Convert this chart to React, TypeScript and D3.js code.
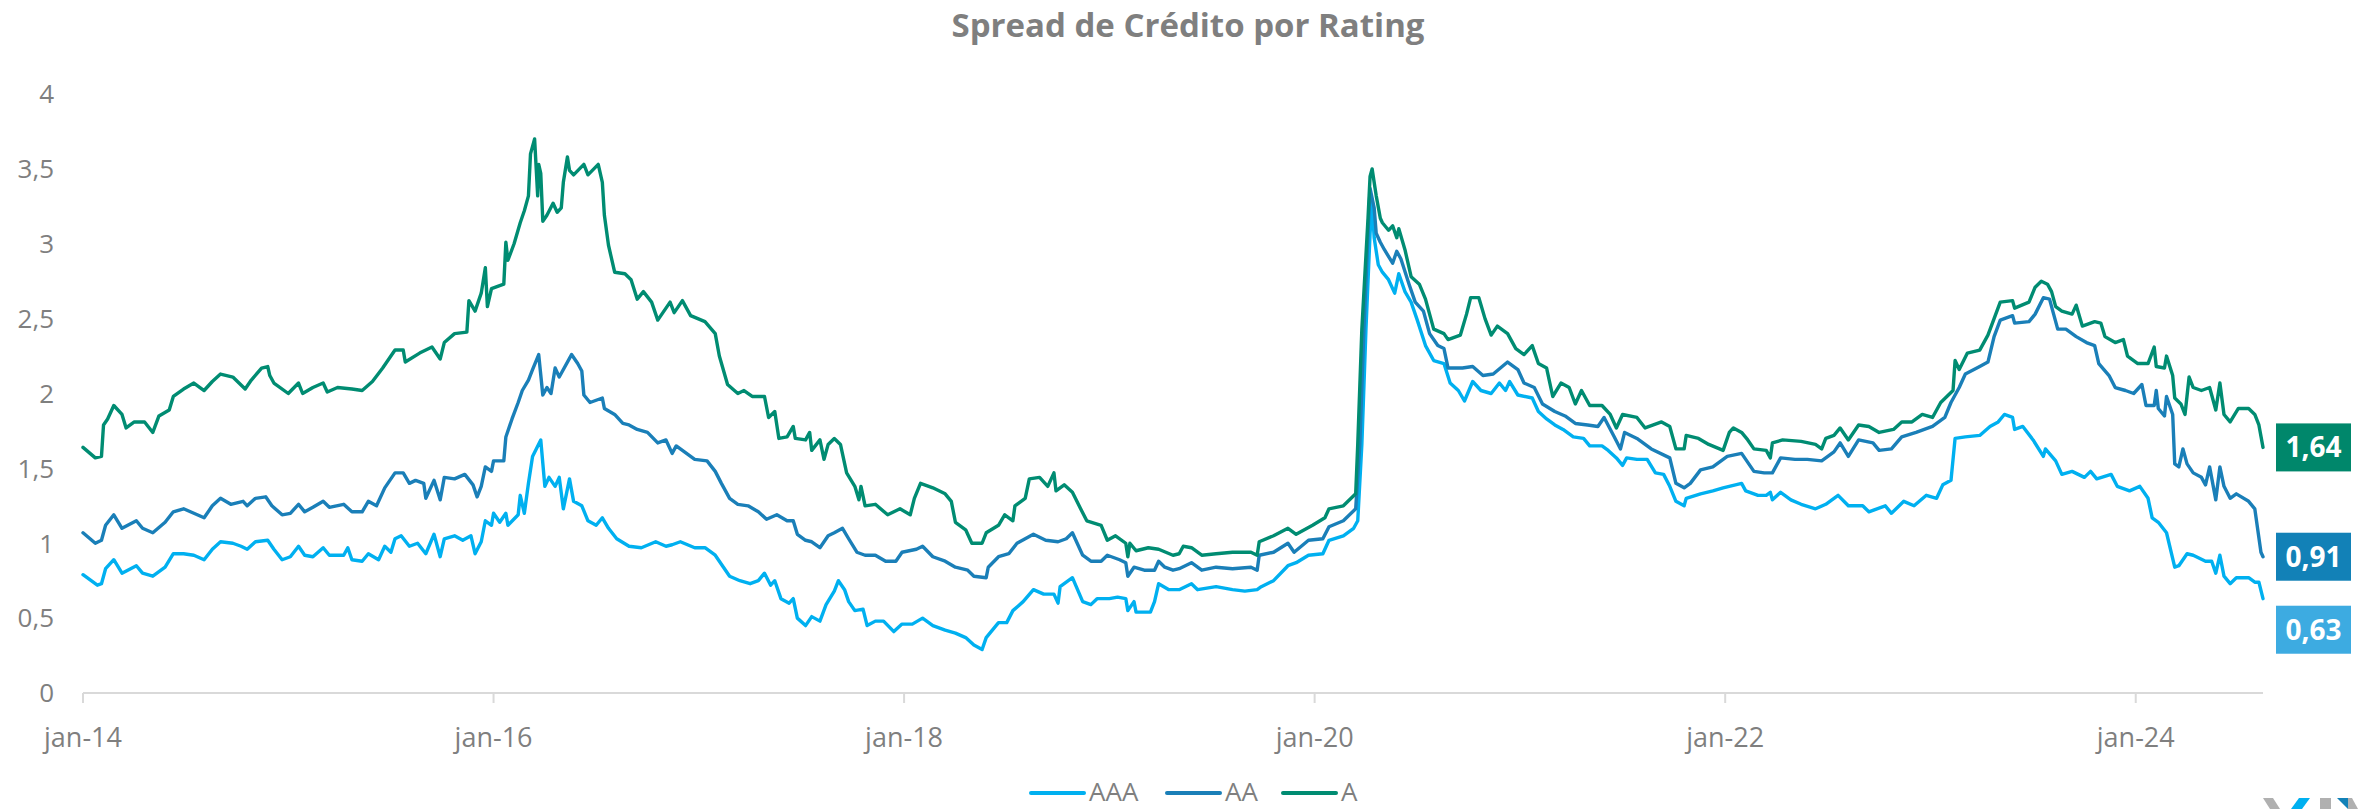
import React from 'react';
import * as d3 from 'd3';

const TITLE = 'Spread de Crédito por Rating';
const SERIES_NAMES = ['AAA', 'AA', 'A'];
const SERIES_COLORS = ['#00b0f0', '#1a7fb8', '#008c72'];
const LABEL_COLORS = ['#3dabe1', '#1281b7', '#00876b'];
const END_LABELS = ['0,63', '0,91', '1,64'];
const X_TICK_YEARS = [2014, 2016, 2018, 2020, 2022, 2024];
const X_TICK_LABELS = ['jan-14', 'jan-16', 'jan-18', 'jan-20', 'jan-22', 'jan-24'];
const Y_TICKS = [0, 0.5, 1, 1.5, 2, 2.5, 3, 3.5, 4];
const Y_TICK_LABELS = ['0', '0,5', '1', '1,5', '2', '2,5', '3', '3,5', '4'];
const X_DOMAIN = [2014, 2024.62];

// [decimal year, spread]
const AAA: [number, number][] = [
  [2014.0, 0.79], [2014.07, 0.72], [2014.09, 0.73], [2014.11, 0.83], [2014.15, 0.89], [2014.19, 0.8],
  [2014.26, 0.85], [2014.29, 0.8], [2014.34, 0.78], [2014.4, 0.84], [2014.44, 0.93], [2014.49, 0.93],
  [2014.54, 0.92], [2014.59, 0.89], [2014.63, 0.96], [2014.67, 1.01], [2014.73, 1.0], [2014.77, 0.98],
  [2014.8, 0.96], [2014.84, 1.01], [2014.9, 1.02], [2014.93, 0.96], [2014.97, 0.89], [2015.01, 0.91],
  [2015.05, 0.98], [2015.08, 0.92], [2015.12, 0.91], [2015.17, 0.97], [2015.2, 0.92], [2015.27, 0.92],
  [2015.29, 0.97], [2015.31, 0.89], [2015.36, 0.88], [2015.39, 0.93], [2015.44, 0.89], [2015.47, 0.98],
  [2015.5, 0.94], [2015.52, 1.03], [2015.55, 1.05], [2015.59, 0.98], [2015.63, 1.0], [2015.67, 0.93],
  [2015.71, 1.06], [2015.74, 0.91], [2015.76, 1.03], [2015.81, 1.05], [2015.85, 1.02], [2015.89, 1.05],
  [2015.91, 0.93], [2015.94, 1.01], [2015.96, 1.15], [2015.99, 1.12], [2016.0, 1.2], [2016.03, 1.14],
  [2016.06, 1.2], [2016.07, 1.12], [2016.12, 1.19], [2016.13, 1.32], [2016.15, 1.2], [2016.17, 1.4],
  [2016.19, 1.58], [2016.23, 1.69], [2016.25, 1.38], [2016.27, 1.44], [2016.3, 1.38], [2016.32, 1.44],
  [2016.34, 1.23], [2016.37, 1.43], [2016.39, 1.28], [2016.43, 1.25], [2016.46, 1.15], [2016.5, 1.12],
  [2016.53, 1.17], [2016.56, 1.1], [2016.6, 1.03], [2016.66, 0.98], [2016.72, 0.97], [2016.79, 1.01],
  [2016.84, 0.98], [2016.87, 0.99], [2016.91, 1.01], [2016.98, 0.97], [2017.03, 0.97], [2017.08, 0.92],
  [2017.12, 0.84], [2017.15, 0.78], [2017.2, 0.75], [2017.25, 0.73], [2017.29, 0.75], [2017.32, 0.8],
  [2017.35, 0.72], [2017.37, 0.75], [2017.4, 0.63], [2017.44, 0.6], [2017.46, 0.63], [2017.48, 0.5],
  [2017.52, 0.45], [2017.55, 0.51], [2017.59, 0.48], [2017.62, 0.59], [2017.66, 0.68], [2017.68, 0.75],
  [2017.71, 0.69], [2017.73, 0.61], [2017.76, 0.55], [2017.8, 0.56], [2017.82, 0.45], [2017.86, 0.48],
  [2017.9, 0.48], [2017.95, 0.41], [2017.99, 0.46], [2018.04, 0.46], [2018.09, 0.5], [2018.14, 0.45],
  [2018.2, 0.42], [2018.25, 0.4], [2018.3, 0.37], [2018.34, 0.32], [2018.38, 0.29], [2018.4, 0.37],
  [2018.46, 0.47], [2018.5, 0.47], [2018.53, 0.55], [2018.58, 0.61], [2018.63, 0.69], [2018.68, 0.66],
  [2018.73, 0.66], [2018.75, 0.6], [2018.76, 0.71], [2018.82, 0.77], [2018.87, 0.61], [2018.91, 0.59],
  [2018.94, 0.63], [2019.0, 0.63], [2019.04, 0.64], [2019.08, 0.63], [2019.09, 0.55], [2019.12, 0.61],
  [2019.13, 0.54], [2019.2, 0.54], [2019.22, 0.61], [2019.24, 0.73], [2019.29, 0.69], [2019.34, 0.69],
  [2019.4, 0.73], [2019.43, 0.69], [2019.52, 0.71], [2019.6, 0.69], [2019.66, 0.68], [2019.72, 0.69],
  [2019.74, 0.71], [2019.8, 0.75], [2019.87, 0.85], [2019.91, 0.87], [2019.97, 0.92], [2020.04, 0.93],
  [2020.07, 1.02], [2020.14, 1.05], [2020.19, 1.1], [2020.21, 1.15], [2020.23, 1.66], [2020.25, 2.43],
  [2020.27, 3.07], [2020.28, 3.27], [2020.29, 3.04], [2020.31, 2.86], [2020.33, 2.81], [2020.36, 2.76],
  [2020.39, 2.67], [2020.41, 2.8], [2020.44, 2.68], [2020.47, 2.61], [2020.5, 2.49], [2020.54, 2.32],
  [2020.58, 2.22], [2020.63, 2.2], [2020.66, 2.07], [2020.7, 2.02], [2020.73, 1.95], [2020.77, 2.08],
  [2020.81, 2.02], [2020.86, 2.0], [2020.9, 2.07], [2020.93, 2.02], [2020.95, 2.08], [2020.99, 1.99],
  [2021.06, 1.97], [2021.09, 1.88], [2021.13, 1.83], [2021.17, 1.79], [2021.21, 1.76], [2021.26, 1.71],
  [2021.31, 1.7], [2021.34, 1.65], [2021.4, 1.65], [2021.43, 1.62], [2021.47, 1.57], [2021.5, 1.52],
  [2021.52, 1.57], [2021.57, 1.56], [2021.62, 1.56], [2021.66, 1.47], [2021.7, 1.46], [2021.73, 1.38],
  [2021.76, 1.28], [2021.8, 1.25], [2021.81, 1.3], [2021.88, 1.33], [2021.94, 1.35], [2021.99, 1.37],
  [2022.08, 1.4], [2022.1, 1.35], [2022.16, 1.32], [2022.2, 1.32], [2022.22, 1.34], [2022.23, 1.29],
  [2022.27, 1.34], [2022.32, 1.29], [2022.37, 1.26], [2022.44, 1.23], [2022.49, 1.26], [2022.55, 1.32],
  [2022.6, 1.25], [2022.67, 1.25], [2022.7, 1.21], [2022.78, 1.25], [2022.81, 1.2], [2022.87, 1.28],
  [2022.92, 1.25], [2022.98, 1.32], [2023.03, 1.3], [2023.06, 1.39], [2023.1, 1.42], [2023.12, 1.7],
  [2023.17, 1.71], [2023.24, 1.72], [2023.29, 1.78], [2023.33, 1.81], [2023.36, 1.86], [2023.4, 1.84],
  [2023.41, 1.76], [2023.45, 1.78], [2023.5, 1.69], [2023.55, 1.58], [2023.56, 1.63], [2023.61, 1.55],
  [2023.64, 1.46], [2023.69, 1.48], [2023.75, 1.44], [2023.78, 1.48], [2023.81, 1.43], [2023.88, 1.46],
  [2023.91, 1.38], [2023.97, 1.35], [2024.02, 1.38], [2024.06, 1.3], [2024.08, 1.17], [2024.11, 1.14],
  [2024.15, 1.07], [2024.19, 0.84], [2024.21, 0.85], [2024.25, 0.93], [2024.28, 0.92], [2024.34, 0.88],
  [2024.37, 0.88], [2024.39, 0.8], [2024.41, 0.92], [2024.43, 0.78], [2024.46, 0.73], [2024.49, 0.77],
  [2024.55, 0.77], [2024.58, 0.74], [2024.6, 0.74], [2024.62, 0.63],
];

const AA: [number, number][] = [
  [2014.0, 1.07], [2014.06, 1.0], [2014.09, 1.02], [2014.11, 1.12], [2014.15, 1.19], [2014.19, 1.1],
  [2014.26, 1.15], [2014.29, 1.1], [2014.34, 1.07], [2014.4, 1.14], [2014.44, 1.21], [2014.49, 1.23],
  [2014.54, 1.2], [2014.59, 1.17], [2014.63, 1.25], [2014.67, 1.3], [2014.72, 1.26], [2014.78, 1.28],
  [2014.8, 1.25], [2014.84, 1.3], [2014.89, 1.31], [2014.92, 1.25], [2014.97, 1.19], [2015.01, 1.2],
  [2015.05, 1.26], [2015.08, 1.21], [2015.12, 1.24], [2015.17, 1.28], [2015.2, 1.24], [2015.27, 1.26],
  [2015.31, 1.21], [2015.36, 1.21], [2015.39, 1.28], [2015.43, 1.25], [2015.47, 1.37], [2015.52, 1.47],
  [2015.56, 1.47], [2015.59, 1.4], [2015.62, 1.42], [2015.66, 1.4], [2015.67, 1.3], [2015.71, 1.42],
  [2015.74, 1.29], [2015.76, 1.44], [2015.81, 1.43], [2015.86, 1.46], [2015.9, 1.39], [2015.92, 1.31],
  [2015.94, 1.38], [2015.96, 1.51], [2015.99, 1.48], [2016.0, 1.55], [2016.05, 1.55], [2016.06, 1.71],
  [2016.09, 1.83], [2016.12, 1.94], [2016.14, 2.02], [2016.17, 2.09], [2016.19, 2.16], [2016.22, 2.26],
  [2016.24, 1.99], [2016.26, 2.04], [2016.28, 2.0], [2016.3, 2.17], [2016.32, 2.11], [2016.38, 2.26],
  [2016.41, 2.2], [2016.43, 2.15], [2016.44, 1.99], [2016.47, 1.94], [2016.53, 1.97], [2016.54, 1.9],
  [2016.59, 1.86], [2016.63, 1.8], [2016.66, 1.79], [2016.7, 1.76], [2016.75, 1.74], [2016.8, 1.67],
  [2016.84, 1.69], [2016.87, 1.6], [2016.89, 1.65], [2016.93, 1.61], [2016.98, 1.56], [2017.04, 1.55],
  [2017.08, 1.48], [2017.11, 1.4], [2017.15, 1.3], [2017.19, 1.26], [2017.24, 1.25], [2017.29, 1.21],
  [2017.33, 1.16], [2017.38, 1.19], [2017.43, 1.15], [2017.46, 1.15], [2017.48, 1.06], [2017.52, 1.02],
  [2017.55, 1.01], [2017.59, 0.97], [2017.63, 1.05], [2017.66, 1.07], [2017.7, 1.1], [2017.73, 1.03],
  [2017.77, 0.94], [2017.81, 0.92], [2017.86, 0.92], [2017.91, 0.88], [2017.96, 0.88], [2017.99, 0.94],
  [2018.06, 0.96], [2018.09, 0.98], [2018.14, 0.91], [2018.2, 0.88], [2018.25, 0.84], [2018.31, 0.82],
  [2018.34, 0.78], [2018.4, 0.77], [2018.41, 0.84], [2018.46, 0.91], [2018.51, 0.93], [2018.55, 1.0],
  [2018.63, 1.06], [2018.69, 1.02], [2018.75, 1.01], [2018.79, 1.03], [2018.82, 1.07], [2018.87, 0.92],
  [2018.91, 0.88], [2018.96, 0.88], [2018.99, 0.92], [2019.05, 0.89], [2019.08, 0.87], [2019.09, 0.78],
  [2019.12, 0.84], [2019.17, 0.82], [2019.22, 0.82], [2019.24, 0.88], [2019.27, 0.84], [2019.31, 0.82],
  [2019.34, 0.83], [2019.4, 0.87], [2019.45, 0.82], [2019.52, 0.84], [2019.6, 0.83], [2019.69, 0.84],
  [2019.72, 0.82], [2019.73, 0.92], [2019.8, 0.94], [2019.87, 1.0], [2019.9, 0.94], [2019.97, 1.02],
  [2020.04, 1.03], [2020.07, 1.11], [2020.14, 1.15], [2020.2, 1.23], [2020.22, 1.66], [2020.24, 2.43],
  [2020.26, 3.07], [2020.27, 3.37], [2020.29, 3.24], [2020.3, 3.07], [2020.32, 3.01], [2020.34, 2.96],
  [2020.38, 2.87], [2020.4, 2.95], [2020.42, 2.9], [2020.46, 2.73], [2020.49, 2.61], [2020.53, 2.55],
  [2020.56, 2.4], [2020.6, 2.32], [2020.63, 2.3], [2020.65, 2.17], [2020.72, 2.17], [2020.77, 2.18],
  [2020.82, 2.12], [2020.87, 2.13], [2020.94, 2.21], [2020.99, 2.16], [2021.02, 2.07], [2021.07, 2.04],
  [2021.11, 1.93], [2021.17, 1.88], [2021.22, 1.85], [2021.27, 1.8], [2021.33, 1.79], [2021.38, 1.78],
  [2021.41, 1.84], [2021.46, 1.71], [2021.49, 1.63], [2021.51, 1.74], [2021.57, 1.7], [2021.64, 1.63],
  [2021.73, 1.57], [2021.76, 1.4], [2021.8, 1.37], [2021.83, 1.4], [2021.88, 1.49], [2021.94, 1.51],
  [2022.01, 1.58], [2022.08, 1.6], [2022.14, 1.48], [2022.19, 1.47], [2022.23, 1.47], [2022.27, 1.57],
  [2022.34, 1.56], [2022.4, 1.56], [2022.47, 1.55], [2022.53, 1.61], [2022.56, 1.67], [2022.6, 1.58],
  [2022.65, 1.69], [2022.72, 1.67], [2022.75, 1.62], [2022.81, 1.63], [2022.86, 1.71], [2022.93, 1.74],
  [2023.01, 1.78], [2023.07, 1.84], [2023.1, 1.94], [2023.14, 2.04], [2023.17, 2.13], [2023.24, 2.18],
  [2023.28, 2.21], [2023.31, 2.38], [2023.34, 2.49], [2023.4, 2.52], [2023.41, 2.47], [2023.48, 2.48],
  [2023.51, 2.53], [2023.55, 2.64], [2023.58, 2.63], [2023.6, 2.53], [2023.62, 2.43], [2023.66, 2.43],
  [2023.71, 2.38], [2023.76, 2.34], [2023.8, 2.32], [2023.82, 2.2], [2023.87, 2.12], [2023.9, 2.04],
  [2023.95, 2.02], [2023.99, 2.0], [2024.03, 2.06], [2024.05, 1.92], [2024.09, 1.92], [2024.1, 2.02],
  [2024.11, 1.9], [2024.14, 1.85], [2024.15, 1.98], [2024.18, 1.86], [2024.19, 1.53], [2024.21, 1.51],
  [2024.23, 1.63], [2024.25, 1.53], [2024.28, 1.47], [2024.32, 1.44], [2024.34, 1.39], [2024.36, 1.51],
  [2024.39, 1.29], [2024.41, 1.51], [2024.43, 1.38], [2024.46, 1.3], [2024.49, 1.33], [2024.55, 1.28],
  [2024.58, 1.23], [2024.61, 0.94], [2024.62, 0.91],
];

const A: [number, number][] = [
  [2014.0, 1.64], [2014.06, 1.57], [2014.09, 1.58], [2014.1, 1.79], [2014.12, 1.83], [2014.15, 1.92],
  [2014.19, 1.86], [2014.21, 1.77], [2014.25, 1.81], [2014.3, 1.81], [2014.34, 1.74], [2014.37, 1.85],
  [2014.42, 1.89], [2014.44, 1.98], [2014.49, 2.03], [2014.54, 2.07], [2014.59, 2.02], [2014.63, 2.08],
  [2014.67, 2.13], [2014.73, 2.11], [2014.79, 2.03], [2014.82, 2.09], [2014.87, 2.17], [2014.9, 2.18],
  [2014.91, 2.12], [2014.93, 2.07], [2015.0, 2.0], [2015.05, 2.07], [2015.07, 2.0], [2015.12, 2.04],
  [2015.17, 2.07], [2015.19, 2.01], [2015.24, 2.04], [2015.31, 2.03], [2015.36, 2.02], [2015.41, 2.08],
  [2015.46, 2.17], [2015.52, 2.29], [2015.56, 2.29], [2015.57, 2.21], [2015.64, 2.27], [2015.7, 2.31],
  [2015.74, 2.23], [2015.76, 2.34], [2015.81, 2.4], [2015.87, 2.41], [2015.88, 2.62], [2015.91, 2.55],
  [2015.94, 2.67], [2015.96, 2.84], [2015.97, 2.58], [2015.99, 2.7], [2016.05, 2.73], [2016.06, 3.01],
  [2016.07, 2.89], [2016.1, 3.0], [2016.13, 3.14], [2016.15, 3.22], [2016.17, 3.32], [2016.18, 3.6],
  [2016.2, 3.7], [2016.215, 3.32], [2016.22, 3.53], [2016.23, 3.47], [2016.24, 3.15], [2016.26, 3.19],
  [2016.29, 3.27], [2016.31, 3.21], [2016.33, 3.24], [2016.34, 3.41], [2016.36, 3.58], [2016.37, 3.49],
  [2016.39, 3.46], [2016.44, 3.53], [2016.46, 3.46], [2016.51, 3.53], [2016.53, 3.41], [2016.54, 3.19],
  [2016.56, 2.99], [2016.59, 2.81], [2016.64, 2.8], [2016.67, 2.76], [2016.7, 2.63], [2016.73, 2.68],
  [2016.77, 2.61], [2016.8, 2.49], [2016.86, 2.61], [2016.88, 2.54], [2016.92, 2.62], [2016.96, 2.52],
  [2017.03, 2.48], [2017.08, 2.4], [2017.1, 2.25], [2017.14, 2.06], [2017.19, 2.0], [2017.22, 2.02],
  [2017.26, 1.98], [2017.32, 1.98], [2017.34, 1.84], [2017.37, 1.88], [2017.39, 1.7], [2017.43, 1.71],
  [2017.46, 1.78], [2017.47, 1.7], [2017.52, 1.69], [2017.54, 1.74], [2017.55, 1.62], [2017.59, 1.69],
  [2017.61, 1.56], [2017.63, 1.66], [2017.66, 1.7], [2017.69, 1.66], [2017.72, 1.47], [2017.76, 1.38],
  [2017.78, 1.29], [2017.79, 1.38], [2017.81, 1.25], [2017.86, 1.26], [2017.92, 1.19], [2017.98, 1.23],
  [2018.03, 1.19], [2018.05, 1.3], [2018.08, 1.4], [2018.14, 1.37], [2018.2, 1.33], [2018.23, 1.28],
  [2018.25, 1.14], [2018.3, 1.09], [2018.33, 1.0], [2018.38, 1.0], [2018.4, 1.07], [2018.46, 1.12],
  [2018.49, 1.19], [2018.53, 1.15], [2018.54, 1.25], [2018.59, 1.3], [2018.61, 1.43], [2018.66, 1.44],
  [2018.7, 1.38], [2018.73, 1.47], [2018.74, 1.35], [2018.78, 1.39], [2018.82, 1.34], [2018.86, 1.23],
  [2018.89, 1.15], [2018.96, 1.12], [2018.99, 1.02], [2019.03, 1.05], [2019.08, 1.0], [2019.09, 0.91],
  [2019.1, 1.0], [2019.13, 0.95], [2019.19, 0.97], [2019.24, 0.96], [2019.31, 0.92], [2019.34, 0.93],
  [2019.36, 0.98], [2019.4, 0.97], [2019.45, 0.92], [2019.52, 0.93], [2019.6, 0.94], [2019.69, 0.94],
  [2019.72, 0.92], [2019.73, 1.01], [2019.8, 1.05], [2019.87, 1.1], [2019.91, 1.06], [2019.99, 1.12],
  [2020.05, 1.17], [2020.07, 1.23], [2020.14, 1.25], [2020.2, 1.33], [2020.21, 1.66], [2020.23, 2.43],
  [2020.26, 3.17], [2020.27, 3.45], [2020.28, 3.5], [2020.3, 3.32], [2020.32, 3.17], [2020.33, 3.14],
  [2020.36, 3.09], [2020.38, 3.12], [2020.4, 3.04], [2020.41, 3.1], [2020.44, 2.96], [2020.47, 2.78],
  [2020.51, 2.73], [2020.54, 2.63], [2020.58, 2.43], [2020.63, 2.4], [2020.65, 2.36], [2020.71, 2.39],
  [2020.74, 2.53], [2020.76, 2.64], [2020.8, 2.64], [2020.83, 2.5], [2020.86, 2.39], [2020.89, 2.45],
  [2020.94, 2.4], [2020.98, 2.3], [2021.02, 2.26], [2021.06, 2.32], [2021.09, 2.2], [2021.13, 2.17],
  [2021.16, 1.98], [2021.2, 2.07], [2021.24, 2.04], [2021.27, 1.93], [2021.3, 2.02], [2021.34, 1.92],
  [2021.4, 1.92], [2021.44, 1.86], [2021.47, 1.77], [2021.5, 1.86], [2021.57, 1.84], [2021.61, 1.77],
  [2021.69, 1.81], [2021.73, 1.78], [2021.76, 1.63], [2021.8, 1.63], [2021.81, 1.72], [2021.87, 1.7],
  [2021.92, 1.66], [2021.99, 1.62], [2022.02, 1.74], [2022.04, 1.77], [2022.08, 1.74], [2022.11, 1.69],
  [2022.14, 1.63], [2022.2, 1.62], [2022.22, 1.57], [2022.23, 1.67], [2022.28, 1.69], [2022.37, 1.68],
  [2022.44, 1.66], [2022.47, 1.63], [2022.49, 1.7], [2022.53, 1.72], [2022.56, 1.77], [2022.6, 1.69],
  [2022.65, 1.79], [2022.7, 1.78], [2022.75, 1.74], [2022.82, 1.76], [2022.86, 1.81], [2022.91, 1.81],
  [2022.96, 1.86], [2023.01, 1.84], [2023.05, 1.94], [2023.08, 1.98], [2023.11, 2.02], [2023.12, 2.22],
  [2023.14, 2.16], [2023.18, 2.27], [2023.24, 2.29], [2023.28, 2.39], [2023.31, 2.5], [2023.34, 2.61],
  [2023.4, 2.62], [2023.41, 2.57], [2023.48, 2.61], [2023.51, 2.71], [2023.54, 2.75], [2023.57, 2.73],
  [2023.59, 2.68], [2023.61, 2.58], [2023.64, 2.55], [2023.69, 2.53], [2023.71, 2.59], [2023.74, 2.45],
  [2023.8, 2.48], [2023.83, 2.47], [2023.85, 2.38], [2023.9, 2.34], [2023.94, 2.36], [2023.96, 2.25],
  [2024.01, 2.2], [2024.06, 2.2], [2024.09, 2.31], [2024.1, 2.18], [2024.14, 2.17], [2024.15, 2.25],
  [2024.18, 2.12], [2024.19, 1.97], [2024.22, 1.93], [2024.24, 1.86], [2024.26, 2.11], [2024.28, 2.04],
  [2024.32, 2.02], [2024.36, 2.04], [2024.39, 1.89], [2024.41, 2.07], [2024.43, 1.86], [2024.46, 1.81],
  [2024.5, 1.9], [2024.55, 1.9], [2024.58, 1.86], [2024.6, 1.79], [2024.62, 1.64],
];

const SERIES = [AAA, AA, A];

const W = 2367;
const H = 809;
const FONT = '"Open Sans", "Noto Sans", sans-serif';
const GRAY = '#7f7f7f';

export default function App() {
  const x = d3.scaleLinear().domain(X_DOMAIN).range([83, 2263]);
  const y = d3.scaleLinear().domain([0, 4]).range([693, 94]);
  const line = d3
    .line<[number, number]>()
    .x((d) => x(d[0]))
    .y((d) => y(d[1]));

  // end label positions with collision avoidance (top to bottom)
  const ends = SERIES.map((s, i) => ({ i, v: s[s.length - 1][1], yy: y(s[s.length - 1][1]) }));
  const sorted = [...ends].sort((a, b) => a.yy - b.yy);
  for (let k = 1; k < sorted.length; k++) {
    if (sorted[k].yy < sorted[k - 1].yy + 73) sorted[k].yy = sorted[k - 1].yy + 73;
  }

  const legendX = [1031, 1167, 1283];

  return (
    <svg
      width={W}
      height={H}
      style={{ position: 'absolute', left: 0, top: 0, background: '#fff' }}
      fontFamily={FONT}
    >
      <rect x={0} y={0} width={W} height={H} fill="#fff" />
      <text x={1188} y={37} textAnchor="middle" fontSize={33} fontWeight={700} fill={GRAY}>
        {TITLE}
      </text>

      {Y_TICKS.map((t, i) => (
        <text key={t} x={54} y={y(t)} dy="0.36em" textAnchor="end" fontSize={26} fill={GRAY}>
          {Y_TICK_LABELS[i]}
        </text>
      ))}

      <line x1={x(X_DOMAIN[0])} x2={x(X_DOMAIN[1])} y1={y(0)} y2={y(0)} stroke="#d9d9d9" strokeWidth={2} />
      {X_TICK_YEARS.map((t, i) => (
        <g key={t}>
          <line x1={x(t)} x2={x(t)} y1={y(0)} y2={y(0) + 10} stroke="#d9d9d9" strokeWidth={2} />
          <text x={x(t)} y={747} textAnchor="middle" fontSize={27} fill={GRAY}>
            {X_TICK_LABELS[i]}
          </text>
        </g>
      ))}

      {SERIES.map((s, i) => (
        <path
          key={SERIES_NAMES[i]}
          d={line(s) || ''}
          fill="none"
          stroke={SERIES_COLORS[i]}
          strokeWidth={3.4}
          strokeLinejoin="round"
          strokeLinecap="round"
        />
      ))}

      {ends.map((e) => (
        <g key={e.i}>
          <rect x={2276} y={e.yy - 24} width={75} height={48} fill={LABEL_COLORS[e.i]} />
          <text x={2313.5} y={e.yy} dy="0.36em" textAnchor="middle" fontSize={28} fontWeight={700} fill="#fff">
            {END_LABELS[e.i]}
          </text>
        </g>
      ))}

      {SERIES_NAMES.map((n, i) => (
        <g key={n}>
          <line
            x1={legendX[i]}
            x2={legendX[i] + 53}
            y1={793}
            y2={793}
            stroke={SERIES_COLORS[i]}
            strokeWidth={4}
            strokeLinecap="round"
          />
          <text x={legendX[i] + 58} y={801} fontSize={26} fill={GRAY}>
            {n}
          </text>
        </g>
      ))}

      <g>
        <polygon points="2263,798 2273,798 2280,809 2270,809" fill="#b0b0b0" />
        <polygon points="2299,798 2310,798 2302,809 2291,809" fill="#00b0f0" />
        <rect x={2320} y={798} width={11} height={11} fill="#b0b0b0" />
        <polygon points="2337,798 2348,798 2348,809" fill="#1281b7" />
        <polygon points="2348,798 2352,798 2358,809 2348,809" fill="#b0b0b0" />
      </g>
    </svg>
  );
}
